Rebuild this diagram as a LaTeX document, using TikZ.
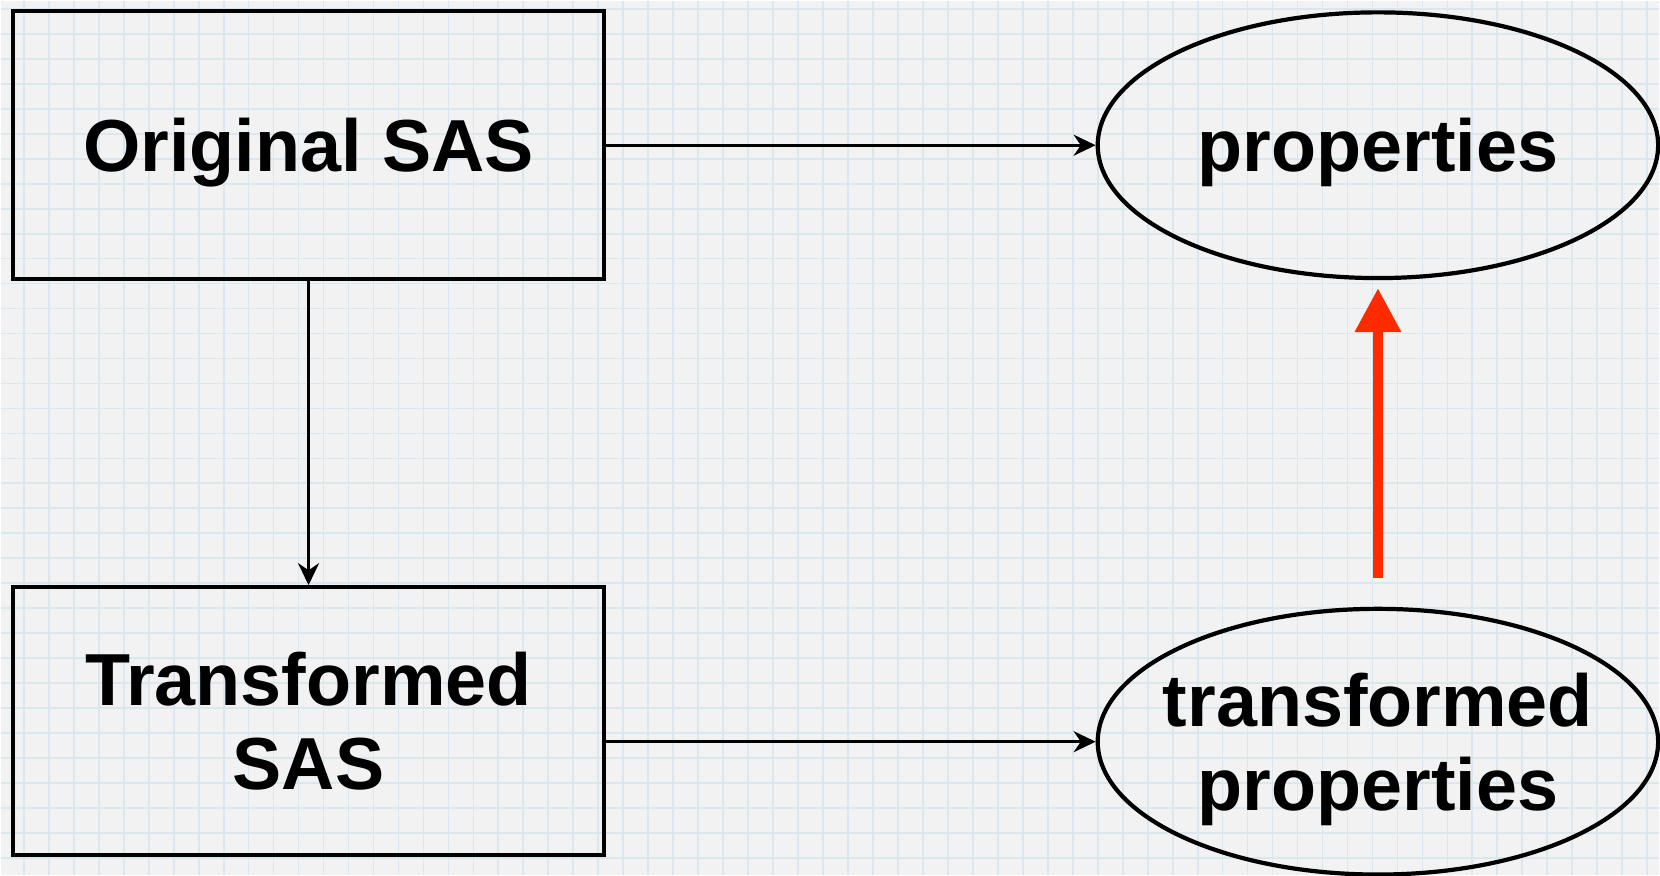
\documentclass[tikz,border=0pt]{standalone}
\usepackage{fontspec}
\setmainfont{Liberation Sans}
\usepackage{tikz}
\usetikzlibrary{arrows.meta, positioning, shapes.geometric}

\definecolor{paper}{HTML}{F2F2F2}
\definecolor{gridblue}{HTML}{D9E8EE}
\definecolor{redarrow}{HTML}{FF2A00}

\begin{document}
\begin{tikzpicture}[x=0.1mm, y=-0.1mm, >=Stealth,
    font=\fontsize{21}{24}\selectfont\bfseries,
    sasbox/.style={draw, line width=1.2pt, minimum width=59.1mm, minimum height=26.8mm, align=center, text depth=0pt},
    propell/.style={draw, ellipse, line width=1.2pt, minimum width=56.1mm, minimum height=26.6mm, inner sep=0pt},
    proptext/.style={align=center, text depth=0pt},
    flow/.style={->, line width=0.9pt, >={Stealth[length=2.2mm, width=2.1mm]}}]

% Graph paper background
\fill[paper] (0, 0) rectangle (1660, 875);
\foreach \gx in {23, 48, ..., 1660}
    \draw[gridblue, line width=0.5pt] (\gx, 0) -- (\gx, 875);
\foreach \gy in {8, 33, ..., 875}
    \draw[gridblue, line width=0.5pt] (0, \gy) -- (1660, \gy);
\useasboundingbox (0, 0) rectangle (1660, 875);

% Boxes
\node[sasbox] (orig) at (308, 144.5) {Original SAS};
\node[sasbox] (trans) at (308, 721) {Transformed\\SAS};

% Ellipses
\node[propell] (props) at (1378.5, 144.5) {};
\node[proptext] (propslbl) at (props.center) {properties};
\node[propell] (tprops) at (1378.5, 741.6) {};
\node[proptext] (tpropslbl) at (tprops.center) {transformed\\properties};

% Connectors
\draw[flow] (orig.east) -- (props.west);
\draw[flow] (orig.south) -- (trans.north);
\draw[flow] (trans.east |- tprops.west) -- (tprops.west);
\draw[redarrow, line width=2.8pt, -{Triangle[length=4.4mm, width=4.4mm]},
    shorten <=2.9mm, shorten >=0.8mm] (tprops.north) -- (props.south);

\end{tikzpicture}
\end{document}
